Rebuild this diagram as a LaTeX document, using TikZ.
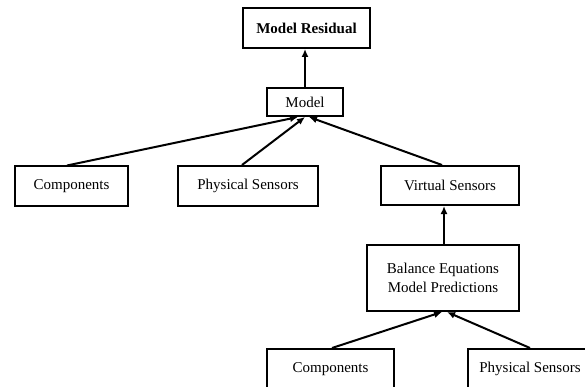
\documentclass[tikz,border=0pt]{standalone}
\usepackage{fontspec}
\setmainfont{Liberation Serif}
\usetikzlibrary{arrows.meta}
\begin{document}
\begin{tikzpicture}[x=1pt,y=-1pt,
  box/.style={draw,line width=2pt,inner sep=0pt,align=center,
    font=\fontsize{15}{19}\selectfont},
  feed/.style={line width=2pt,-{Latex[length=8pt,width=7pt]}}]
\useasboundingbox (0,0) rectangle (585,387);
\clip (0,0) rectangle (585,387);
% upper level
\node[box,minimum width=127pt,minimum height=40pt,font=\fontsize{15}{19}\selectfont\bfseries] (res) at (306.5,28) {Model Residual};
\node[box,minimum width=76pt,minimum height=28pt] (model) at (305,102) {Model};
% inputs of the model
\node[box,minimum width=113pt,minimum height=39pt] (comp) at (71.5,186) {Components};
\node[box,minimum width=140pt,minimum height=40pt] (phys) at (248,186) {Physical Sensors};
\node[box,minimum width=138pt,minimum height=39pt] (virt) at (450,185.5) {Virtual Sensors};
% virtual sensor branch
\node[box,minimum width=152pt,minimum height=66pt] (bal) at (443,278) {Balance Equations\\Model Predictions};
\node[box,minimum width=127pt,minimum height=40pt] (comp2) at (330.5,369) {Components};
\node[box,minimum width=124pt,minimum height=40pt] (phys2) at (530,369) {Physical Sensors};
% connectors
\draw[feed] (model.north) -- (model.north |- res.south);
\draw[feed] ([xshift=-4.5pt]comp.north) -- ([xshift=-7pt]model.south);
\draw[feed] ([xshift=-6pt]phys.north) -- (model.south);
\draw[feed] ([xshift=-8pt]virt.north) -- ([xshift=4pt]model.south);
\draw[feed] ([xshift=1pt]bal.north) -- ([xshift=1pt]bal.north |- virt.south);
\draw[feed] ([xshift=1.5pt]comp2.north) -- ([xshift=-1pt]bal.south);
\draw[feed] (phys2.north) -- ([xshift=4pt]bal.south);
\end{tikzpicture}
\end{document}
